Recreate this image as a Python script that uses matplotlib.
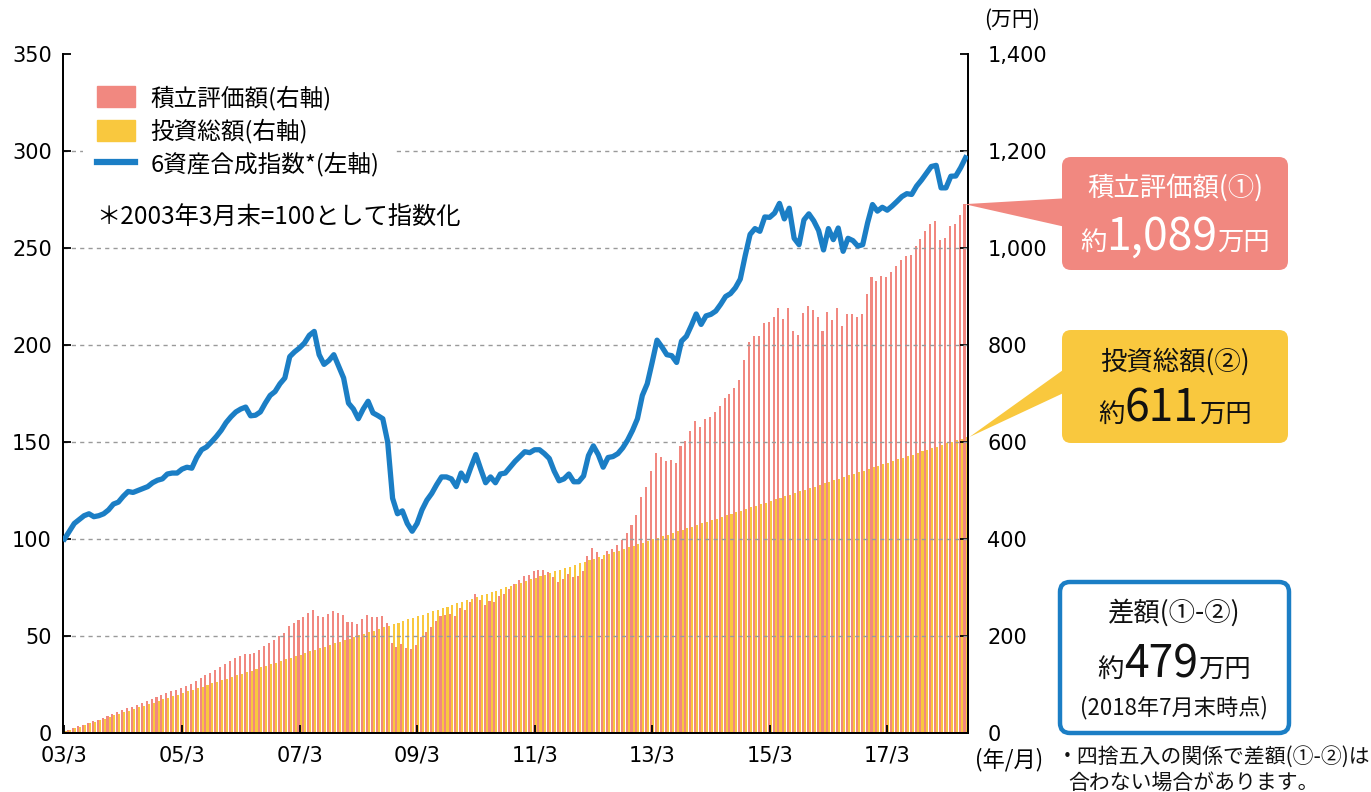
import matplotlib
matplotlib.use('Agg')
import matplotlib.pyplot as plt
from matplotlib.patches import Patch, FancyBboxPatch, Polygon
from matplotlib.lines import Line2D
from matplotlib.ticker import FuncFormatter
import numpy as np

plt.rcParams['font.family'] = ['Noto Sans CJK JP', 'DejaVu Sans']

# 6資産合成指数 (2003年3月末=100), 月次 2003/3 - 2018/7
index_vals = [
    100, 104, 108, 110, 112, 113, 111.5, 112, 113, 115,
    118, 119, 122, 124.5, 124, 125, 126, 127, 129, 130.3,
    131, 133.5, 134, 134, 136, 137, 136.5, 142, 146, 147.4,
    150, 152.8, 156, 160, 163, 165.5, 167, 168, 163.5, 163.8,
    165.5, 170, 174, 176, 180, 183, 194, 196.5, 198.5, 201,
    205, 207, 195, 190, 192, 195, 189, 183, 170, 167,
    162, 167, 171, 165, 163.6, 162, 150, 121, 113, 114.5,
    108, 104, 108, 115, 120, 123.5, 128, 132, 132, 131,
    127, 134, 130, 137, 143.5, 136, 129, 132, 129, 133.5,
    134, 137, 140, 142.5, 145, 144.5, 146, 146, 144, 141.5,
    135, 130, 131, 133.5, 129.5, 129.5, 132.5, 143, 148, 143.5,
    137, 142, 142.5, 144, 147, 151, 156, 162, 174, 180,
    191, 202.5, 199, 195, 194.5, 191, 202, 204.5, 210, 216,
    210.6, 215, 215.8, 217.5, 221, 225, 226.5, 229.5, 234, 246,
    257, 260, 258.6, 266, 265.8, 268, 273, 265, 270.5, 255,
    251.7, 264.5, 267.6, 264, 259, 249, 260, 254.3, 260.3, 248.3,
    255, 253.8, 251, 251.7, 263, 272.4, 269, 271, 269.5, 271.6,
    274, 276.5, 278, 277.6, 281.9, 285, 288.5, 292, 292.6, 281,
    281, 287, 287.1, 291.4, 296.5,
]

# 積立評価額 (万円)
valuation = [
    3.3, 6.7, 10.3, 13.8, 17.3, 20.8, 23.8, 27.2, 30.8, 34.6,
    38.8, 42.4, 46.8, 51.1, 54.2, 57.9, 61.7, 65.5, 69.8, 73.8,
    77.5, 82.3, 85.9, 89.2, 93.8, 97.8, 100.7, 108.1, 114.4, 118.8,
    124.2, 129.9, 135.9, 142.7, 148.6, 154.2, 158.9, 163.2, 162.1, 165.7,
    170.7, 178.7, 186.2, 191.6, 199.2, 205.9, 221.5, 227.7, 233.3, 239.5,
    247.6, 253.3, 241.9, 239.0, 244.9, 252.0, 247.5, 243.0, 229.0, 228.3,
    224.8, 235.0, 243.9, 238.7, 239.9, 240.9, 226.3, 185.9, 176.9, 182.6,
    175.5, 172.3, 182.2, 197.3, 209.2, 218.6, 229.9, 240.4, 243.7, 245.1,
    240.9, 257.5, 253.1, 270.0, 286.2, 274.5, 263.7, 273.1, 270.2, 282.9,
    287.3, 297.0, 306.8, 315.6, 324.4, 326.6, 333.3, 336.6, 335.3, 332.8,
    320.8, 312.2, 317.9, 327.3, 320.8, 324.1, 334.9, 364.7, 380.8, 372.5,
    358.9, 375.3, 379.9, 387.2, 398.6, 412.8, 429.7, 449.6, 486.2, 506.2,
    540.5, 576.3, 569.6, 561.5, 563.3, 556.5, 591.9, 602.5, 622.0, 643.0,
    630.3, 646.7, 652.5, 660.9, 674.8, 690.3, 698.2, 710.8, 728.0, 768.7,
    806.3, 819.1, 817.9, 844.7, 847.3, 857.6, 876.9, 854.5, 875.6, 828.7,
    821.3, 866.3, 879.8, 871.2, 858.0, 828.2, 868.1, 852.4, 875.8, 838.7,
    864.6, 863.9, 857.6, 863.3, 905.4, 941.0, 932.6, 942.8, 940.9, 951.5,
    963.2, 975.3, 983.9, 985.8, 1004.4, 1018.7, 1034.5, 1050.4, 1055.8, 1017.3,
    1020.6, 1045.7, 1049.3, 1068.4, 1090.4,
]

# 投資総額 (万円)
invested = [
    3.3, 6.6, 9.9, 13.2, 16.5, 19.8, 23.1, 26.4, 29.7, 33.0,
    36.3, 39.6, 42.9, 46.2, 49.5, 52.8, 56.1, 59.4, 62.7, 66.0,
    69.3, 72.6, 75.9, 79.2, 82.5, 85.8, 89.1, 92.4, 95.7, 99.0,
    102.3, 105.6, 108.9, 112.2, 115.5, 118.8, 122.1, 125.4, 128.7, 132.0,
    135.3, 138.6, 141.9, 145.2, 148.5, 151.8, 155.1, 158.4, 161.7, 165.0,
    168.3, 171.6, 174.9, 178.2, 181.5, 184.8, 188.1, 191.4, 194.7, 198.0,
    201.3, 204.6, 207.9, 211.2, 214.5, 217.8, 221.1, 224.4, 227.7, 231.0,
    234.3, 237.6, 240.9, 244.2, 247.5, 250.8, 254.1, 257.4, 260.7, 264.0,
    267.3, 270.6, 273.9, 277.2, 280.5, 283.8, 287.1, 290.4, 293.7, 297.0,
    300.3, 303.6, 306.9, 310.2, 313.5, 316.8, 320.1, 323.4, 326.7, 330.0,
    333.3, 336.6, 339.9, 343.2, 346.5, 349.8, 353.1, 356.4, 359.7, 363.0,
    366.3, 369.6, 372.9, 376.2, 379.5, 382.8, 386.1, 389.4, 392.7, 396.0,
    399.3, 402.6, 405.9, 409.2, 412.5, 415.8, 419.1, 422.4, 425.7, 429.0,
    432.3, 435.6, 438.9, 442.2, 445.5, 448.8, 452.1, 455.4, 458.7, 462.0,
    465.3, 468.6, 471.9, 475.2, 478.5, 481.8, 485.1, 488.4, 491.7, 495.0,
    498.3, 501.6, 504.9, 508.2, 511.5, 514.8, 518.1, 521.4, 524.7, 528.0,
    531.3, 534.6, 537.9, 541.2, 544.5, 547.8, 551.1, 554.4, 557.7, 561.0,
    564.3, 567.6, 570.9, 574.2, 577.5, 580.8, 584.1, 587.4, 590.7, 594.0,
    597.3, 600.6, 603.9, 607.2, 610.5,
]

tick_months = [0, 24, 48, 72, 96, 120, 144, 168]
tick_labels = ['03/3', '05/3', '07/3', '09/3', '11/3', '13/3', '15/3', '17/3']

RED = '#F18880'
YEL = '#F9C83E'
BLUE = '#1B7EC5'
NUMFONT = ['DejaVu Sans']

months = np.arange(len(index_vals))

fig = plt.figure(figsize=(13.71, 7.92), dpi=100)
ax = fig.add_axes([63 / 1371, 59 / 792, 905 / 1371, 679 / 792])

# 棒グラフ (右軸)
ax.bar(months - 0.21, valuation, width=0.42, color=RED, linewidth=0, zorder=1)
ax.bar(months + 0.21, invested, width=0.42, color=YEL, linewidth=0, zorder=1)
ax.set_xlim(-0.3, 184.5)
ax.set_ylim(0, 1400)

# 折れ線 (左軸)
ax2 = ax.twinx()
ax2.plot(months, index_vals, color=BLUE, lw=3.8, solid_joinstyle='round', zorder=3)
ax2.set_ylim(0, 350)
ax2.set_yticks(range(0, 351, 50))
ax2.yaxis.tick_left()
ax2.tick_params(axis='y', direction='in', length=6, width=1.3, pad=8,
                left=True, right=False)

# twinx の後で右軸を設定
ax.yaxis.tick_right()
ax.set_yticks(range(0, 1401, 200))
ax.yaxis.set_major_formatter(FuncFormatter(lambda v, p: f'{int(v):,}'))
ax.set_xticks(tick_months)
ax.set_xticklabels(tick_labels)
ax.tick_params(axis='x', direction='in', length=6, width=1.3, pad=9)
ax.tick_params(axis='y', direction='in', length=6, width=1.3, pad=14,
               right=True, left=False)

for a in (ax, ax2):
    a.spines['top'].set_visible(False)
    for s in ['left', 'right', 'bottom']:
        a.spines[s].set_linewidth(1.3)
for lab in ax.get_xticklabels() + ax.get_yticklabels() + ax2.get_yticklabels():
    lab.set_family(NUMFONT)
    lab.set_fontsize(15)

ax2.grid(axis='y', linestyle=(0, (3, 3)), color='#9a9a9a', lw=1.0, zorder=2)
gl = ax2.yaxis.get_gridlines()
gl[0].set_visible(False)
gl[-1].set_visible(False)

handles = [Patch(color=RED), Patch(color=YEL), Line2D([], [], color=BLUE, lw=4.5)]
labels = ['積立評価額(右軸)', '投資総額(右軸)', '6資産合成指数*(左軸)']
leg = ax2.legend(handles, labels, loc='upper left', bbox_to_anchor=(0.022, 0.975),
                 frameon=True, framealpha=1, edgecolor='none', fancybox=False,
                 fontsize=17, handlelength=1.6, handleheight=1.0, handletextpad=0.65,
                 labelspacing=0.36, borderpad=0.6, borderaxespad=0)
ax2.text(0.037, 0.758, '＊2003年3月末=100として指数化', transform=ax2.transAxes,
         fontsize=17.5, va='center', ha='left')

fig.text(1012 / 1371, 1 - 20 / 792, '(万円)', ha='center', va='center', fontsize=15)
fig.text(1009 / 1371, 1 - 760 / 792, '(年/月)', ha='center', va='center', fontsize=16)

# 吹き出し (ピクセル座標のオーバーレイ)
ov = fig.add_axes([0, 0, 1, 1])
ov.set_xlim(0, 1371)
ov.set_ylim(792, 0)
ov.axis('off')
ov.patch.set_visible(False)

H = 792
rtip = ax.transData.transform((months[-1] - 0.21, valuation[-1]))
ytip = ax.transData.transform((months[-1] + 0.21, invested[-1]))
ov.add_patch(Polygon([[rtip[0], H - rtip[1]], [1070, 198], [1070, 228]], closed=True,
                     fc=RED, ec='none'))
ov.add_patch(Polygon([[ytip[0] + 3, H - ytip[1]], [1070, 365], [1070, 390]], closed=True,
                     fc=YEL, ec='none'))
ov.add_patch(FancyBboxPatch((1062, 157), 226, 113, boxstyle='round,pad=0,rounding_size=9',
                            fc=RED, ec='none'))
ov.add_patch(FancyBboxPatch((1062, 330), 226, 113, boxstyle='round,pad=0,rounding_size=9',
                            fc=YEL, ec='none'))
ov.add_patch(FancyBboxPatch((1060, 582), 229, 151, boxstyle='round,pad=0,rounding_size=10',
                            fc='white', ec=BLUE, lw=3.2))

renderer = fig.canvas.get_renderer()


def money_line(cx, y, num, color):
    parts = [ov.text(0, y, '約', fontsize=19, color=color, va='baseline'),
             ov.text(0, y, num, fontsize=32, color=color, va='baseline'),
             ov.text(0, y, '万円', fontsize=19, color=color, va='baseline')]
    ws = [t.get_window_extent(renderer).width for t in parts]
    x = cx - sum(ws) / 2
    for t, w in zip(parts, ws):
        t.set_x(x)
        x += w


ov.text(1175, 188, '積立評価額(①)', fontsize=19, color='white', ha='center', va='center')
money_line(1175, 250, '1,089', 'white')
ov.text(1175, 362, '投資総額(②)', fontsize=19, color='#111111', ha='center', va='center')
money_line(1175, 422, '611', '#111111')
ov.text(1174, 613, '差額(①-②)', fontsize=19, color='#111111', ha='center', va='center')
money_line(1174, 677, '479', '#111111')
ov.text(1174, 708, '(2018年7月末時点)', fontsize=16, color='#111111', ha='center', va='center')
ov.text(1057, 757, '・四捨五入の関係で差額(①-②)は', fontsize=15, color='#111111',
        ha='left', va='center')
ov.text(1068, 783, '合わない場合があります。', fontsize=15, color='#111111',
        ha='left', va='center')

fig.savefig('out.png', dpi=100)
